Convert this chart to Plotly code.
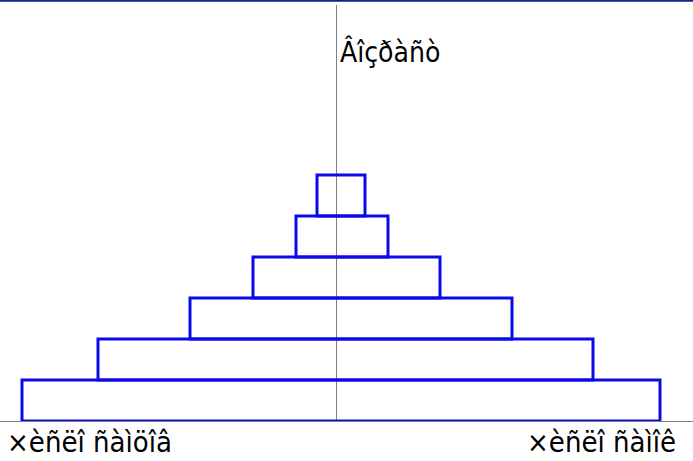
import plotly.graph_objects as go

# Age classes (bottom to top) and counts
ages = [0, 1, 2, 3, 4, 5]
males = [157, 119, 73, 41.5, 20, 9.5]
females = [162, 128.5, 88, 52, 26, 14.5]

label_age = "Âîçðàñò"
label_males = "×èñëî ñàìöîâ"
label_females = "×èñëî ñàìîê"

blue = "#0A0AE6"
grey = "#808080"
font_family = "DejaVu Sans Condensed, DejaVu Sans, sans-serif"

fig = go.Figure()
fig.add_trace(go.Bar(
    y=ages,
    x=[m + f for m, f in zip(males, females)],
    base=[-m for m in males],
    orientation="h",
    width=1,
    marker=dict(color="rgba(0,0,0,0)", line=dict(color=blue, width=3)),
    hoverinfo="skip",
    showlegend=False,
))

fig.update_layout(
    width=693, height=461,
    margin=dict(l=0, r=0, t=5, b=40),
    paper_bgcolor="white", plot_bgcolor="white",
    showlegend=False,
    xaxis=dict(range=[-168, 178.5], showgrid=False, showticklabels=False,
               ticks="", zeroline=True, zerolinecolor=grey, zerolinewidth=1,
               showline=True, linecolor=grey, linewidth=1, layer="below traces",
               fixedrange=True),
    yaxis=dict(range=[-0.5, 9.65], showgrid=False, showticklabels=False,
               ticks="", zeroline=False, showline=False, fixedrange=True),
    shapes=[dict(type="line", xref="paper", yref="paper", x0=0, x1=1,
                 y0=1.0105, y1=1.0105, line=dict(color="#0A2A80", width=2))],
    annotations=[
        dict(text=label_age, xref="x", yref="paper", x=0, y=(421 - 33) / 416,
             xanchor="left", yanchor="top", xshift=2, showarrow=False,
             font=dict(family=font_family, size=28, color="black")),
        dict(text=label_males, xref="paper", yref="paper", x=0, y=0,
             xanchor="left", yanchor="top", xshift=5, yshift=-2, showarrow=False,
             font=dict(family=font_family, size=29, color="black")),
        dict(text=label_females, xref="paper", yref="paper", x=678 / 693, y=0,
             xanchor="right", yanchor="top", yshift=-2, showarrow=False,
             font=dict(family=font_family, size=29, color="black")),
    ],
)

fig.write_html(
    "out.html",
    config={"displayModeBar": False},
    post_script="document.body.style.margin='0';document.body.style.overflow='hidden';",
)
